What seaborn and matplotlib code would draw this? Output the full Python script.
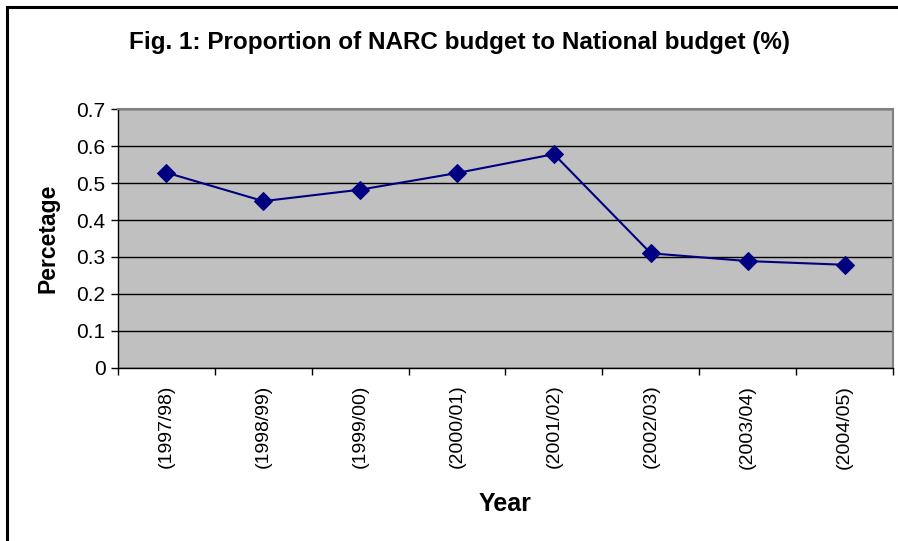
import numpy as np
import pandas as pd
import matplotlib.pyplot as plt
import seaborn as sns
from matplotlib.patches import Rectangle

# Datos
years = ['(1997/98)', '(1998/99)', '(1999/00)', '(2000/01)',
         '(2001/02)', '(2002/03)', '(2003/04)', '(2004/05)']
share = [0.528, 0.451, 0.482, 0.527, 0.578, 0.310, 0.289, 0.279]

df = pd.DataFrame({'Year': years, 'Percetage': share})

sns.set_style('white', {'text.color': 'black', 'axes.labelcolor': 'black',
                        'xtick.color': 'black', 'ytick.color': 'black'})
plt.rcParams['font.family'] = ['Liberation Sans', 'DejaVu Sans']

fig = plt.figure(figsize=(8.98, 5.41), dpi=100)
ax = fig.add_axes([0.1314, 0.3198, 0.8630, 0.4787])

# Marco exterior
fig.patches.append(Rectangle((7 / 898, -0.05), 1.2, 1 - 7 / 541 + 0.05,
                             transform=fig.transFigure, fill=False,
                             edgecolor='black', linewidth=2.2, zorder=0))

ax.set_facecolor('#C0C0C0')
sns.lineplot(data=df, x='Year', y='Percetage', ax=ax, color='#000080',
             marker='D', markersize=9, markeredgecolor='#000080',
             linewidth=1.5, sort=False)

# Ejes
ax.set_ylim(0, 0.7)
ax.set_xlim(-0.5, len(years) - 0.5)
ax.set_yticks(np.arange(0, 0.71, 0.1))
ax.set_yticklabels(['0'] + [f'{v:.1f}' for v in np.arange(0.1, 0.71, 0.1)])
ax.yaxis.grid(True, color='black', linewidth=1)
ax.set_axisbelow(True)

ax.set_xticks(np.arange(-0.5, len(years), 1))
ax.set_xticklabels([])
ax.set_xticks(np.arange(len(years)), minor=True)
ax.set_xticklabels(years, minor=True, rotation=90, fontsize=14)
ax.tick_params(axis='x', which='minor', length=0, pad=12)
ax.tick_params(axis='x', which='major', direction='out', length=5,
               width=1, color='black', bottom=True)
ax.tick_params(axis='y', direction='out', length=5, width=1,
               color='black', left=True, labelsize=15, pad=4)

for side in ['top', 'right']:
    ax.spines[side].set_color('#808080')
    ax.spines[side].set_linewidth(1.5)
for side in ['left', 'bottom']:
    ax.spines[side].set_color('black')
    ax.spines[side].set_linewidth(1)

ax.set_xlabel('Year', fontsize=18, fontweight='bold', labelpad=17)
ax.set_ylabel('Percetage', fontsize=16.5, fontweight='bold')
ax.yaxis.set_label_coords(-0.075, 0.5)

fig.text(0.512, 0.922, 'Fig. 1: Proportion of NARC budget to National budget (%)',
         ha='center', va='center', fontsize=17.5, fontweight='bold')

plt.savefig('out.png', dpi=100)
